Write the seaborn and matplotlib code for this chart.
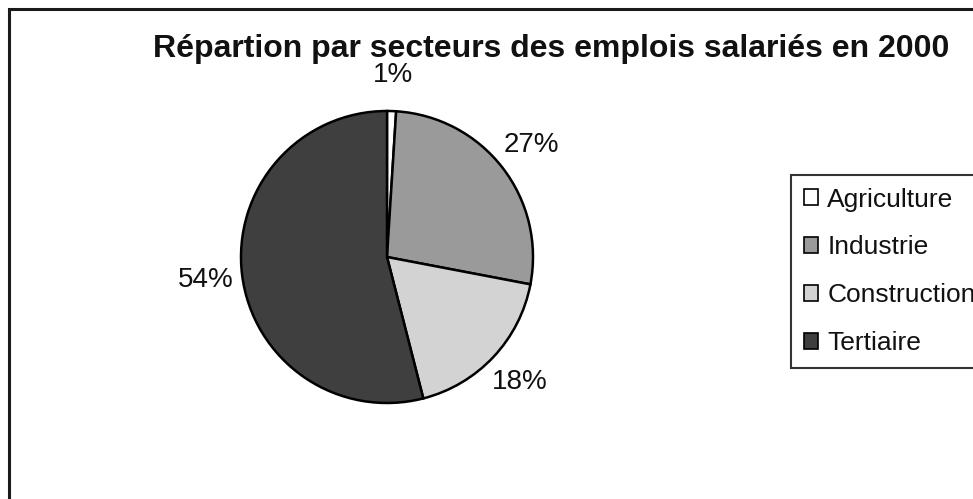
import matplotlib
matplotlib.use("Agg")
import matplotlib.pyplot as plt
from matplotlib.patches import Rectangle, Patch
import seaborn as sns

# ---- data ----
categories = ["Agriculture", "Industrie", "Construction", "Tertiaire"]
shares = [1, 27, 18, 54]
title = "Répartion par secteurs des emplois salariés en 2000"

sns.set_theme(style="white")
plt.rcParams["font.family"] = ["Liberation Sans", "DejaVu Sans"]

colors = ["#ffffff", "#9a9a9a", "#d3d3d3", "#3f3f3f"]

W, H = 973, 499
fig = plt.figure(figsize=(W / 100, H / 100), dpi=100)
fig.patch.set_facecolor("white")
ax = fig.add_axes([0, 0, 1, 1])
ax.set_xlim(0, W)
ax.set_ylim(0, H)
ax.set_aspect("equal")
ax.axis("off")

# outer frame (extends past the cropped right/bottom edges)
ax.add_patch(Rectangle((8.5, -30), 1100, H - 8.5 + 30, fill=False,
                       edgecolor="#1a1a1a", linewidth=2.2, clip_on=False))

wedges, texts, autotexts = ax.pie(
    shares, colors=colors, startangle=90, counterclock=False,
    center=(387, H - 257), radius=146, frame=True,
    autopct="%1.0f%%", pctdistance=1.25,
    wedgeprops=dict(edgecolor="black", linewidth=1.8),
    textprops=dict(fontsize=20, color="#111111"),
)
ax.set_xlim(0, W)
ax.set_ylim(0, H)
ax.axis("off")

fig.text(551 / W, 1 - 57 / H, title, ha="center", va="baseline",
         fontsize=23, fontweight="bold", color="#111111")

handles = [Patch(facecolor=c, edgecolor="black", linewidth=1.2) for c in colors]
leg = fig.legend(handles, categories, loc="upper left",
                 bbox_to_anchor=(791 / W, 1 - 175 / H),
                 bbox_transform=fig.transFigure,
                 fontsize=19, frameon=True, fancybox=False, shadow=False,
                 handlelength=0.55, handleheight=0.55, handletextpad=0.35,
                 labelspacing=0.9, borderpad=0.48, borderaxespad=0)
leg.get_frame().set_edgecolor("black")
leg.get_frame().set_linewidth(1.5)
for t in leg.get_texts():
    t.set_color("#111111")

fig.savefig("out.png", dpi=100)
